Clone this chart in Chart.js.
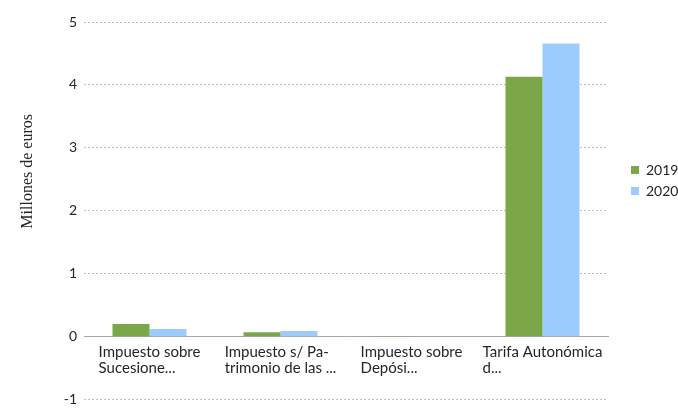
<!DOCTYPE html>
<html lang="es">
<head>
    <meta charset="UTF-8">
    <title>Impuestos</title>
    <style>
        body { margin: 0; background: #fff; }
        .wrap { width: 678px; height: 408px; position: relative; }
    </style>
    <script src="https://cdn.jsdelivr.net/npm/chart.js"></script>
</head>
<body>
    <div class="wrap"><canvas id="myChart"></canvas></div>
    <script>
        // Datos (millones de euros)
        const categorias = [
            ['Impuesto sobre', 'Sucesione...'],
            ['Impuesto s/ Pa-', 'trimonio de las ...'],
            ['Impuesto sobre', 'Depósi...'],
            ['Tarifa Autonómica', 'd...']
        ];
        const valores2019 = [0.20, 0.07, 0.01, 4.13];
        const valores2020 = [0.12, 0.09, 0.0, 4.66];
        const tituloEje = 'Millones de euros';

        // Etiquetas del eje x alineadas a la izquierda dentro de su bloque
        const etiquetasX = {
            id: 'etiquetasX',
            afterDraw(chart) {
                const ctx = chart.ctx;
                const x = chart.scales.x, y = chart.scales.y;
                const y0 = y.getPixelForValue(0);
                ctx.save();
                ctx.font = '15px Lato';
                ctx.fillStyle = '#262626';
                ctx.textBaseline = 'top';
                categorias.forEach((lineas, i) => {
                    const ancho = Math.max(...lineas.map(l => ctx.measureText(l).width));
                    const cx = x.getPixelForTick(i);
                    lineas.forEach((l, j) => {
                        ctx.fillText(l, cx - ancho / 2, y0 + 8 + j * 16);
                    });
                });
                // título del eje y
                const my = (y.getPixelForValue(0) + y.getPixelForValue(5)) / 2 - 8;
                ctx.translate(28, my);
                ctx.rotate(-Math.PI / 2);
                ctx.textAlign = 'center';
                ctx.textBaseline = 'middle';
                ctx.font = '16px "Liberation Serif"';
                ctx.fillText(tituloEje, 0, 0);
                ctx.restore();
            }
        };

        const ctx = document.getElementById('myChart').getContext('2d');
        const myChart = new Chart(ctx, {
            type: 'bar',
            data: {
                labels: categorias,
                datasets: [
                    {
                        label: '2019',
                        data: valores2019,
                        backgroundColor: '#7ba749'
                    },
                    {
                        label: '2020',
                        data: valores2020,
                        backgroundColor: '#9ccbfe'
                    }
                ]
            },
            options: {
                responsive: true,
                maintainAspectRatio: false,
                animation: false,
                layout: { padding: { top: 22, bottom: 0, left: 0, right: 0 } },
                datasets: {
                    bar: { categoryPercentage: 0.565, barPercentage: 1 }
                },
                plugins: {
                    tooltip: { enabled: false },
                    legend: {
                        position: 'right',
                        align: 'start',
                        maxWidth: 54,
                        title: { display: true, text: '', padding: { top: 122, bottom: 0 }, font: { size: 10 } },
                        labels: {
                            boxWidth: 8,
                            boxHeight: 8,
                            padding: 7,
                            color: '#262626',
                            font: { family: 'Lato', size: 14 }
                        }
                    }
                },
                scales: {
                    x: {
                        position: { y: 0 },
                        grid: { display: false },
                        border: { display: true, color: '#a6a6a6', width: 1 },
                        ticks: { color: 'rgba(0,0,0,0)', font: { family: 'Lato', size: 14 } }
                    },
                    y: {
                        min: -1,
                        max: 5,
                        afterFit(s) { s.width = 84; },
                        ticks: {
                            stepSize: 1,
                            padding: 0,
                            color: '#262626',
                            font: { family: 'Lato', size: 14 }
                        },
                        grid: {
                            drawTicks: true,
                            tickLength: 7,
                            tickColor: 'rgba(0,0,0,0)',
                            color: c => c.tick && c.tick.value === 0 ? 'rgba(0,0,0,0)' : '#bfbfbf'
                        },
                        border: { display: false, dash: [2, 2] }
                    },
                    y2: {
                        position: 'right',
                        display: true,
                        grid: { display: false },
                        border: { display: false },
                        ticks: { display: false },
                        afterFit(s) { s.width = 16; }
                    }
                }
            },
            plugins: [etiquetasX]
        });
    </script>
</body>
</html>
